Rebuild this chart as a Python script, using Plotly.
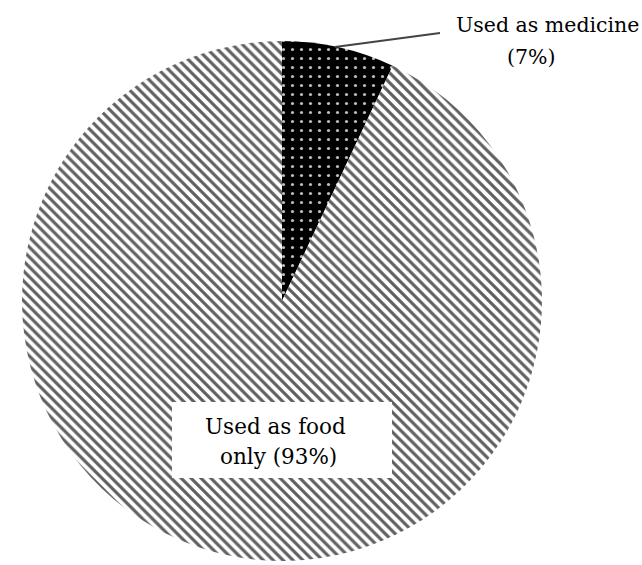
import plotly.graph_objects as go

W, H = 642, 565

# Survey shares of how the plant is used
categories = ["Used as medicine", "Used as food only"]
shares = [7, 93]
label_lines = [["Used as medicine", "(7%)"], ["Used as food", "only (93%)"]]


def px(x):
    return x / W


def py(y):
    return 1 - y / H


SERIF = "DejaVu Serif"

fig = go.Figure(
    go.Pie(
        labels=categories,
        values=shares,
        sort=False,
        direction="clockwise",
        rotation=0,
        textinfo="none",
        hoverinfo="label+percent",
        showlegend=False,
        domain=dict(x=[px(22), px(542)], y=[py(561), py(41)]),
        marker=dict(
            colors=["#000000", "#ffffff"],
            line=dict(width=0),
            pattern=dict(
                shape=[".", "\\"],
                fgcolor=["#bdbdbd", "#606060"],
                bgcolor=["#000000", "#ffffff"],
                size=[9, 7],
                solidity=[0.1, 0.45],
            ),
        ),
    )
)

shapes = [
    # white box behind the food label
    dict(type="rect", xref="paper", yref="paper",
         x0=px(172), x1=px(392), y0=py(478), y1=py(402),
         fillcolor="white", line=dict(width=0), layer="above"),
    # leader line to the medicine label
    dict(type="line", xref="paper", yref="paper",
         x0=px(335), y0=py(47), x1=px(440), y1=py(33),
         line=dict(color="#444444", width=2), layer="above"),
]

positions = [(547, 25), (531, 57), (275, 426), (278, 456)]
sizes = [20.5, 20.5, 21.5, 21.5]
texts = [label_lines[0][0], label_lines[0][1], label_lines[1][0], label_lines[1][1]]
annotations = [
    dict(text=t, x=px(x), y=py(y), xref="paper", yref="paper",
         showarrow=False, xanchor="center", yanchor="middle",
         font=dict(family=SERIF, size=s, color="black"))
    for t, (x, y), s in zip(texts, positions, sizes)
]

fig.update_layout(
    width=W, height=H,
    margin=dict(l=0, r=0, t=0, b=0),
    paper_bgcolor="white",
    plot_bgcolor="white",
    shapes=shapes,
    annotations=annotations,
)

fig.write_html("out.html")
